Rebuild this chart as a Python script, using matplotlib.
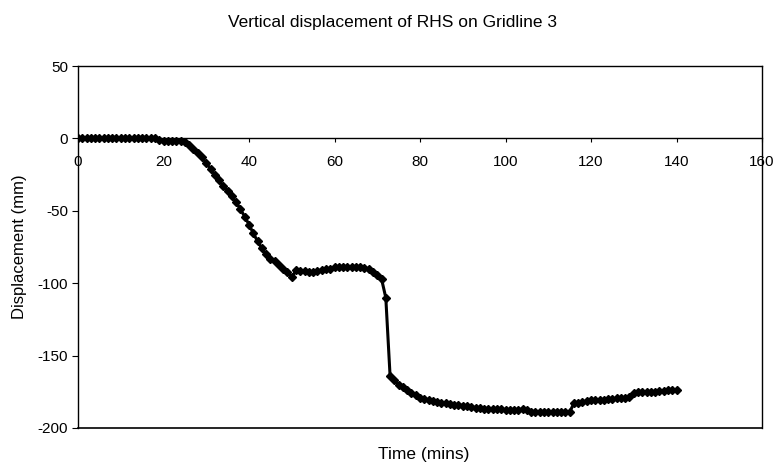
import numpy as np
import matplotlib
matplotlib.use("Agg")
import matplotlib.pyplot as plt

plt.rcParams['font.family'] = ['Liberation Sans', 'DejaVu Sans']

# time in minutes, one reading per minute
time_min = list(range(0, 141))
disp_mm = [
    0, 0, 0, 0, 0, 0, 0, 0, 0, 0,
    0, 0, 0, 0, 0, 0, 0, 0, 0, -1,
    -1.5, -2, -2, -2, -2, -2.5, -4.5, -7, -10, -13,
    -17, -21, -25, -29, -33, -36.5, -40, -44, -49, -54,
    -59.5, -65.5, -71, -76, -80, -83, -85, -87.5, -90, -92.5,
    -96, -91, -91.5, -91.5, -92, -92, -91.5, -91, -90.5, -90,
    -89, -88.5, -88.5, -88.5, -88.5, -89, -89, -89.5, -90.5, -92,
    -94, -97, -110, -164, -167, -170, -172, -174, -176, -177.5,
    -179, -180, -181, -181.5, -182, -182.5, -183, -183.5, -184, -184,
    -184.5, -185, -185.5, -186, -186.5, -187, -187, -187, -187, -187,
    -187.5, -187.5, -187.5, -187.5, -187, -187.5, -189, -189, -189, -189,
    -189, -189, -189, -189, -189, -189, -183, -182.5, -182, -181.5,
    -181, -181, -180.5, -180.5, -180, -180, -179.5, -179.5, -179, -178.5,
    -175.5, -175, -175, -175, -175, -175, -174.5, -174.5, -174, -174,
    -173.5,
]

xticks = [0, 20, 40, 60, 80, 100, 120, 140, 160]
yticks = [50, 0, -50, -100, -150, -200]

fig = plt.figure(figsize=(7.76, 4.66), dpi=100)
ax = fig.add_axes([78/776, 38/466, 684/776, 362/466])

ax.plot(time_min, disp_mm, color='black', linewidth=2.2,
        marker='D', markersize=4.5, markerfacecolor='black', markeredgecolor='black')

ax.set_xlim(0, 160)
ax.set_ylim(-200, 50)
ax.set_xticks(xticks)
ax.set_yticks(yticks)
ax.set_yticklabels([str(v) for v in yticks])

# x axis sits on the zero line, keep a frame line at the bottom
ax.spines['bottom'].set_position(('data', 0))
ax.axhline(ax.get_ylim()[0], color='black', linewidth=1.2, clip_on=False)
for s in ['left', 'right', 'top', 'bottom']:
    ax.spines[s].set_linewidth(1.0)

ax.tick_params(axis='x', direction='out', length=3, pad=9, labelsize=11)
ax.tick_params(axis='y', direction='out', length=4, pad=3, labelsize=11)

fig.text(392/776, 1 - 22/466, 'Vertical displacement of RHS on Gridline 3',
         ha='center', va='center', fontsize=12.5)
fig.text(424/776, 1 - 455/466, 'Time (mins)', ha='center', va='center', fontsize=12.5)
fig.text(20/776, 1 - 247/466, 'Displacement (mm)', ha='center', va='center',
         rotation=90, fontsize=12)

plt.savefig('out.png', dpi=100)
